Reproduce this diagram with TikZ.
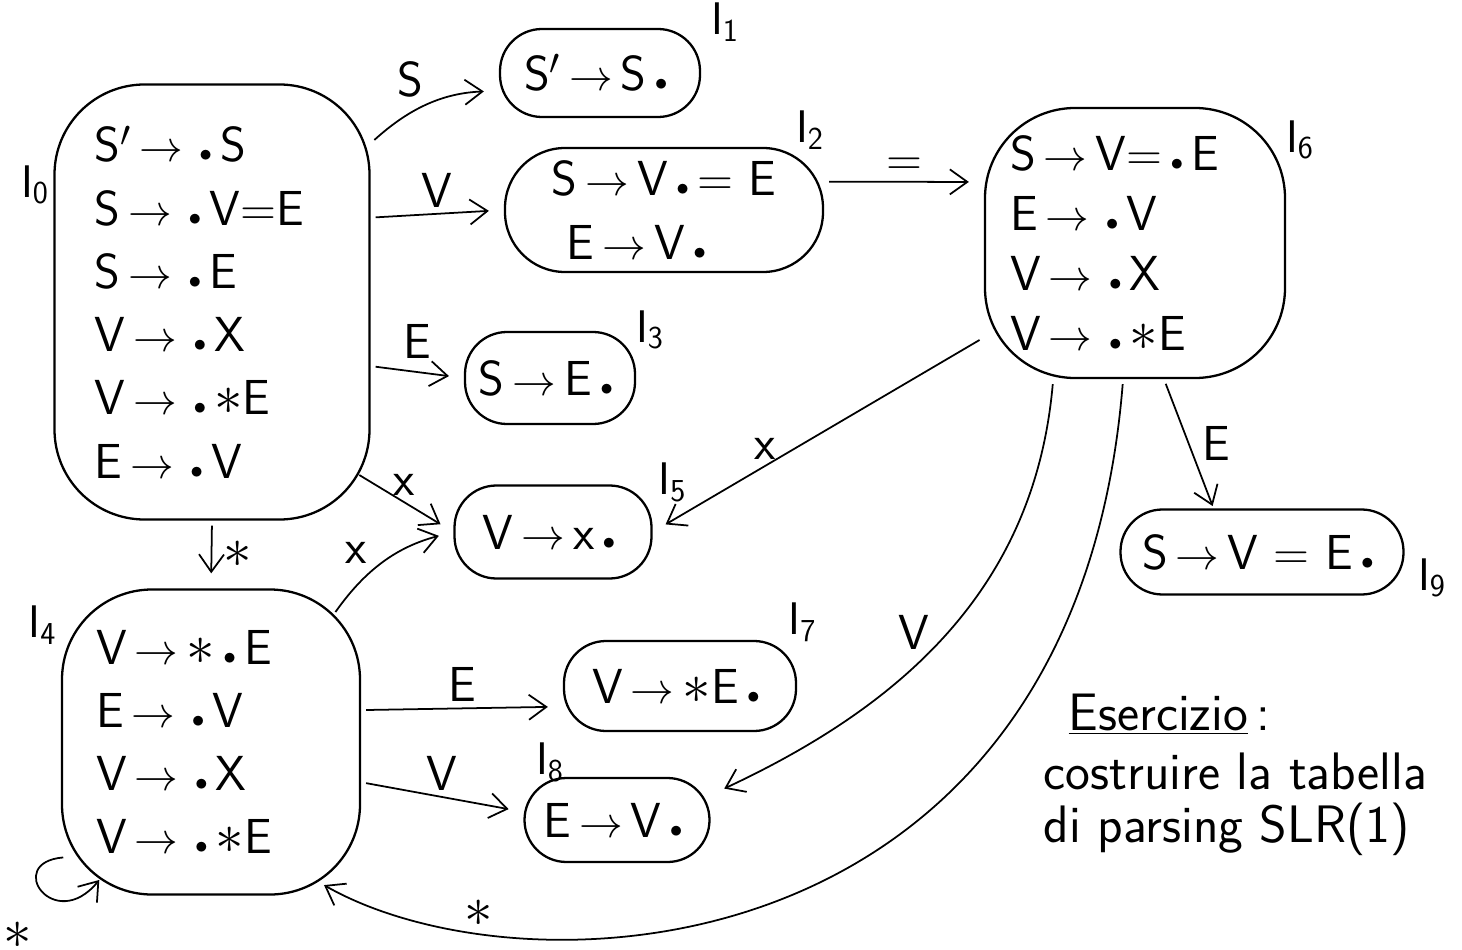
\documentclass[tikz,border=0pt]{standalone}
\usepackage{fontspec}
\usetikzlibrary{positioning, calc, arrows.meta}
\newcommand{\yields}{\,$\rightarrow$\,}
\newcommand{\itemdot}{\,$\scriptscriptstyle\bullet$\,}
\newcommand{\astk}{\scalebox{1.3}{$\ast$}}

\begin{document}
\begin{tikzpicture}[>={Straight Barb[length=3.5mm, width=5mm]}, font=\sffamily\fontsize{28}{36}\selectfont,
    trans/.style={->, line width=1pt, shorten >=0.3cm, shorten <=0.1cm}]
\useasboundingbox (0,0) rectangle (29.24,-19);

\begin{scope}[every node/.style={draw, line width=1.3pt, rounded corners=1.8cm, align=left, inner sep=0pt}]
    \node[minimum width=6.3cm, minimum height=8.7cm, text width=4.7cm] (i0) at (4.24,-6.04)
        {S$'$\yields\itemdot S\\ S\yields\itemdot V=E\\ S\yields\itemdot E\\ V\yields\itemdot X\\ V\yields\itemdot\astk E\\ E\yields\itemdot V};
    \node[minimum width=5.96cm, minimum height=6.1cm, text width=4.6cm] (i4) at (4.22,-14.84)
        {V\yields\astk\itemdot E\\ E\yields\itemdot V\\ V\yields\itemdot X\\ V\yields\itemdot\astk E};
    \node[minimum width=6cm, minimum height=5.4cm, text width=5cm, font=\sffamily\fontsize{28}{34}\selectfont] (i6) at (22.7,-4.86)
        {S\yields V=\itemdot E\\ E\yields\itemdot V\\ V\yields\itemdot X\\ V\yields\itemdot\astk E};
\end{scope}
\begin{scope}[every node/.style={draw, line width=1.3pt, rounded corners=0.84cm, align=left, inner sep=0pt}]
    \node[minimum width=4cm, minimum height=1.76cm] (i1) at (12,-1.46) {S$'$\yields S\itemdot};
    \node[minimum width=6.36cm, minimum height=2.48cm, rounded corners=1.2cm] (i2) at (13.28,-4.2)
        {S\yields V\itemdot = E\\ \hspace*{0.3cm}E\yields V\itemdot};
    \node[minimum width=3.4cm, minimum height=1.84cm] (i3) at (11,-7.56) {S\yields E\itemdot};
    \node[minimum width=3.94cm, minimum height=1.86cm] (i5) at (11.06,-10.64) {V\yields x\itemdot};
    \node[minimum width=4.64cm, minimum height=1.8cm] (i7) at (13.6,-13.72) {V\yields\astk E\itemdot};
    \node[minimum width=3.7cm, minimum height=1.68cm] (i8) at (12.34,-16.4) {E\yields V\itemdot};
    \node[minimum width=5.66cm, minimum height=1.7cm] (i9) at (25.24,-11.04) {S\yields V = E\itemdot};
\end{scope}

% state names
\begin{scope}[every node/.style={font=\sffamily\fontsize{26}{26}\selectfont}]
    \node (l0) at (0.7,-3.7) {I$_{\mathsf{0}}$};
    \node (l1) at (14.5,-0.44) {I$_{\mathsf{1}}$};
    \node (l2) at (16.2,-2.6) {I$_{\mathsf{2}}$};
    \node (l3) at (13.0,-6.6) {I$_{\mathsf{3}}$};
    \node (l4) at (0.85,-12.5) {I$_{\mathsf{4}}$};
    \node (l5) at (13.45,-9.65) {I$_{\mathsf{5}}$};
    \node (l6) at (26.0,-2.8) {I$_{\mathsf{6}}$};
    \node (l7) at (16.05,-12.45) {I$_{\mathsf{7}}$};
    \node (l8) at (11.0,-15.25) {I$_{\mathsf{8}}$};
    \node (l9) at (28.64,-11.56) {I$_{\mathsf{9}}$};
\end{scope}

\draw[trans] (i0.45) to[bend left=20] node[above left] {S} (i1.190);
\draw[trans] (i0.28) -- node[midway, above] {V} (i2.west);
\draw[trans] (i0.-22) -- node[midway, above=4pt] {E} (i3.west);
\draw[trans] ($(i0)+(-50:4.45)$) -- node[midway, above] {x} (i5.west);
\draw[trans] (i0.south) -- node[midway, right=3pt] {\astk} (i4.north);
\draw[trans] ($(i4)+(46:3.5)$) to[bend left=20] node[pos=0.4, above left] {x} (i5.west);
\draw[trans] (i4.12) -- node[midway, above] {E} (i7.190);
\draw[trans] (i4.-15) -- node[midway, above] {V} (i8.175);
\draw[->, line width=1pt] ($(i4)+(218:3.75)$) .. controls +(-1.2,-0.1) and +(-0.9,-1.1) .. ($(i4)+(231:3.55)$);
\node (loop) at (0.36,-18.7) {\astk};
\draw[trans] (i2.10) -- node[midway, above] {=} (i6.158);
\draw[trans] (i6.212) -- node[pos=0.66, above] {x} (i5.east);
\draw[trans, shorten >=0.05cm] (i6.-78) -- node[midway, right=4pt] {E} (i9.138);
\draw[trans] (i6.-121) to[out=-95, in=25] node[midway, left=6pt] {V} (i8.15);
\draw[trans, shorten >=0.05cm] (i6.-95) .. controls (21.5,-19.5) and (10.5,-20) .. node[pos=0.8, above] {\astk} ($(i4)+(-52:3.6)$);

\node[anchor=north west, align=left, font=\sffamily\fontsize{30}{30}\selectfont] (ex) at (20.75,-13.75)
    {\hspace*{0.5cm}\underline{Esercizio}\,:\\[4pt] costruire la tabella\\ di parsing SLR(1)};
\end{tikzpicture}
\end{document}
